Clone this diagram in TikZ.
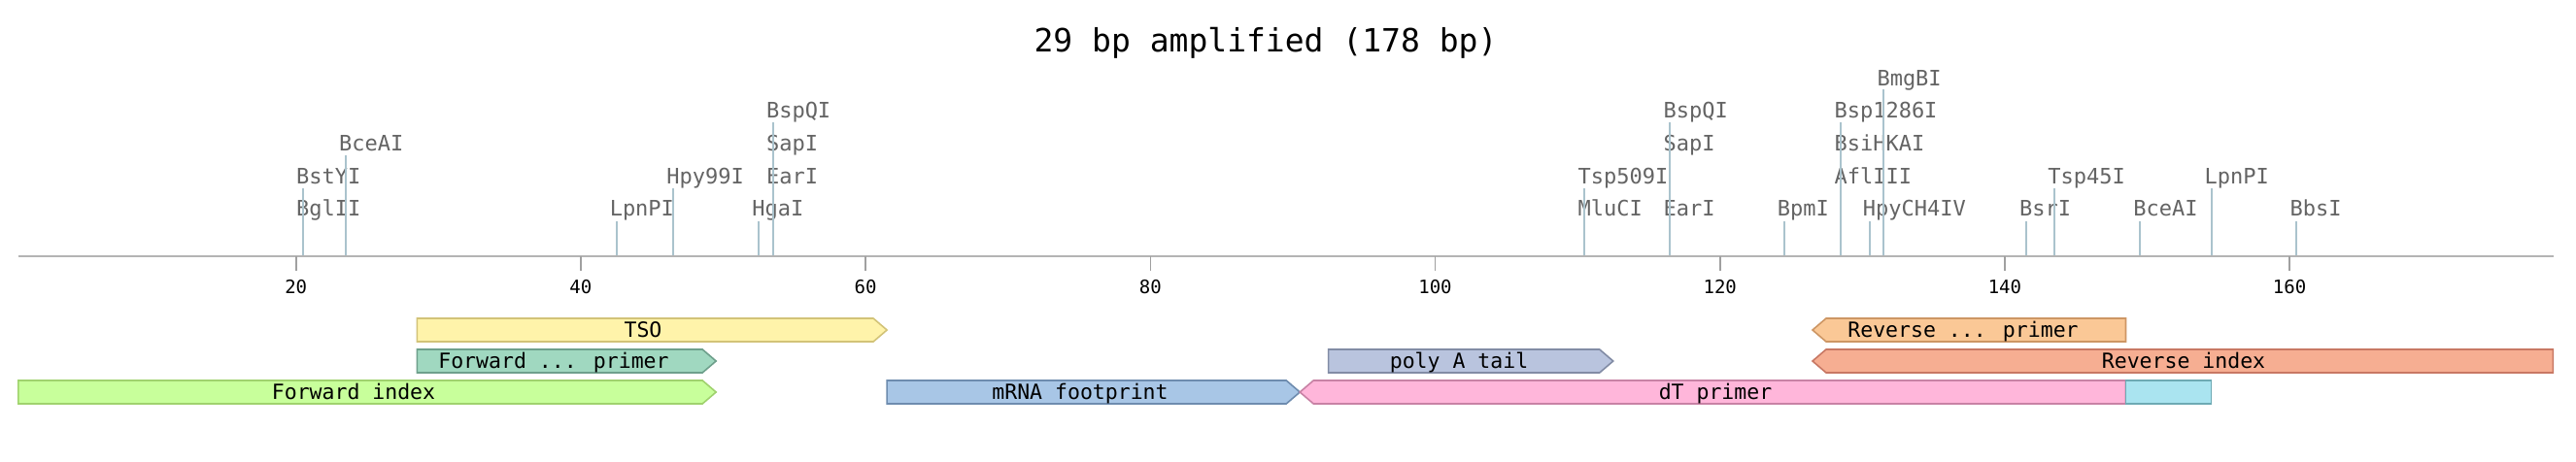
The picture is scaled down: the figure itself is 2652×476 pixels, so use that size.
\documentclass[tikz,border=0pt]{standalone}
\usepackage{fontspec}
\newfontfamily\dvm{DejaVu Sans Mono}
\definecolor{axisgray}{HTML}{B4B4B4}
\definecolor{tickgray}{HTML}{A0A0A0}
\definecolor{cutblue}{HTML}{AAC3CD}
\definecolor{labgray}{HTML}{646464}
\definecolor{tsoF}{HTML}{FFF3AA}\definecolor{tsoD}{HTML}{D2C378}
\definecolor{fpF}{HTML}{A0D8C0}\definecolor{fpD}{HTML}{6EA08C}
\definecolor{fiF}{HTML}{C8FF9B}\definecolor{fiD}{HTML}{A0D26E}
\definecolor{mrF}{HTML}{A8C6E6}\definecolor{mrD}{HTML}{6E8CAF}
\definecolor{paF}{HTML}{B9C4DE}\definecolor{paD}{HTML}{828CA5}
\definecolor{dtF}{HTML}{FFB6DA}\definecolor{dtD}{HTML}{C882A5}
\definecolor{cyF}{HTML}{AAE4F0}\definecolor{cyD}{HTML}{6EAAB4}
\definecolor{rpF}{HTML}{FAC896}\definecolor{rpD}{HTML}{CD9664}
\definecolor{riF}{HTML}{F6AE92}\definecolor{riD}{HTML}{C87864}
\tikzset{
  declare function={bx(\b)=11.5+14.66*\b;},
  enz/.style={anchor=base west, inner sep=0pt, text=labgray, font={\dvm\fontsize{22pt}{24pt}\selectfont}},
  featlab/.style={anchor=base, inner sep=0pt, font={\dvm\fontsize{21.5pt}{24pt}\selectfont}},
  ticklab/.style={anchor=base, inner sep=0pt, font={\dvm\fontsize{19pt}{21pt}\selectfont}},
  titlelab/.style={anchor=base, inner sep=0pt, font={\dvm\fontsize{33pt}{36pt}\selectfont}},
  cut/.style={draw=cutblue, line width=2pt},
  feat/.style={line width=1.6pt, line join=miter},
  axisline/.style={draw=axisgray, line width=2.2pt},
  tickline/.style={draw=tickgray, line width=1.6pt},
}
\newcommand\enzlabel[4]{\node[enz] (#1) at ({bx(#2)-7},{222.7-33.6*#3}) {#4};}
\newcommand\cutline[3]{%
  \coordinate (#1b) at ({bx(#2)},263);
  \coordinate (#1t) at ({bx(#2)},{228-34*#3});
  \draw[cut] (#1b) -- (#1t);}
\newcommand\fwdfeat[6]{% name start end yc fill draw
  \draw[feat, fill=#5, draw=#6] ({bx(#2)},{#4-12}) -- ({bx(#3)-14},{#4-12}) -- ({bx(#3)},#4)
     -- ({bx(#3)-14},{#4+12}) -- ({bx(#2)},{#4+12}) -- cycle;}
\newcommand\revfeat[6]{%
  \draw[feat, fill=#5, draw=#6] ({bx(#3)},{#4-12}) -- ({bx(#2)+14},{#4-12}) -- ({bx(#2)},#4)
     -- ({bx(#2)+14},{#4+12}) -- ({bx(#3)},{#4+12}) -- cycle;}
\begin{document}
\begin{tikzpicture}[x=1pt,y=-1pt]
\useasboundingbox[fill=white] (0,0) rectangle (2652,476);
% title
\node[titlelab] (title) at (1303,54) {29 bp amplified (178 bp)};
% axis
\coordinate (axL) at ({bx(0.5)},264);
\coordinate (axR) at ({bx(178.5)+1},264);
\draw[axisline] (axL) -- (axR);
\foreach \t in {20,40,...,160}{
  \coordinate (tk\t) at ({bx(\t)},264);
  \coordinate (tb\t) at ({bx(\t)},279);
  \draw[tickline] (tk\t) -- (tb\t);
  \node[ticklab] (tl\t) at ({bx(\t)},302.7) {\t};
}
% features
\fwdfeat{tso}{28.5}{61.5}{340}{tsoF}{tsoD}
\fwdfeat{fp}{28.5}{49.5}{372}{fpF}{fpD}
\fwdfeat{fi}{0.5}{49.5}{404}{fiF}{fiD}
\fwdfeat{mr}{61.5}{90.5}{404}{mrF}{mrD}
\fwdfeat{pa}{92.5}{112.5}{372}{paF}{paD}
\revfeat{dt}{90.5}{148.5}{404}{dtF}{dtD}
\revfeat{rp}{126.5}{148.5}{340}{rpF}{rpD}
\revfeat{ri}{126.5}{178.5}{372}{riF}{riD}
\draw[feat, fill=cyF, draw=cyD] ({bx(148.5)},392) rectangle ({bx(154.5)},416);
\node[featlab] (ltso) at (662,347.8) {TSO};
\node[featlab] (lfp) at (570,379.8) {Forward ... primer};
\node[featlab] (lfi) at (364,411.8) {Forward index};
\node[featlab] (lmr) at (1112,411.8) {mRNA footprint};
\node[featlab] (lpa) at (1502,379.8) {poly A tail};
\node[featlab] (ldt) at (1766,411.8) {dT primer};
\node[featlab] (lrp) at (2021,347.8) {Reverse ... primer};
\node[featlab] (lri) at (2248,379.8) {Reverse index};
% enzyme labels
\enzlabel{bglii}{20.5}{0}{BglII}
\enzlabel{bstyi}{20.5}{1}{BstYI}
\enzlabel{bceai}{23.5}{2}{BceAI}
\enzlabel{lpnpi}{42.5}{0}{LpnPI}
\enzlabel{hpy}{46.5}{1}{Hpy99I}
\enzlabel{hgai}{52.5}{0}{HgaI}
\enzlabel{eari}{53.5}{1}{EarI}
\enzlabel{sapi}{53.5}{2}{SapI}
\enzlabel{bspqi}{53.5}{3}{BspQI}
\enzlabel{mluci}{110.5}{0}{MluCI}
\enzlabel{tsp}{110.5}{1}{Tsp509I}
\enzlabel{earii}{116.5}{0}{EarI}
\enzlabel{sapii}{116.5}{2}{SapI}
\enzlabel{bspqii}{116.5}{3}{BspQI}
\enzlabel{bpmi}{124.5}{0}{BpmI}
\enzlabel{afl}{128.5}{1}{AflIII}
\enzlabel{bsih}{128.5}{2}{BsiHKAI}
\enzlabel{bsp}{128.5}{3}{Bsp1286I}
\enzlabel{hpych}{130.5}{0}{HpyCH4IV}
\enzlabel{bmg}{131.5}{4}{BmgBI}
\enzlabel{bsri}{141.5}{0}{BsrI}
\enzlabel{tspf}{143.5}{1}{Tsp45I}
\enzlabel{bceaii}{149.5}{0}{BceAI}
\enzlabel{lpnpii}{154.5}{1}{LpnPI}
\enzlabel{bbsi}{160.5}{0}{BbsI}
% cut lines
\cutline{c1}{20.5}{1}
\cutline{c2}{23.5}{2}
\cutline{c3}{42.5}{0}
\cutline{c4}{46.5}{1}
\cutline{c5}{52.5}{0}
\cutline{c6}{53.5}{3}
\cutline{c7}{110.5}{1}
\cutline{c8}{116.5}{3}
\cutline{c9}{124.5}{0}
\cutline{c10}{128.5}{3}
\cutline{c11}{130.5}{0}
\cutline{c12}{131.5}{4}
\cutline{c13}{141.5}{0}
\cutline{c14}{143.5}{1}
\cutline{c15}{149.5}{0}
\cutline{c16}{154.5}{1}
\cutline{c17}{160.5}{0}
\end{tikzpicture}
\end{document}
